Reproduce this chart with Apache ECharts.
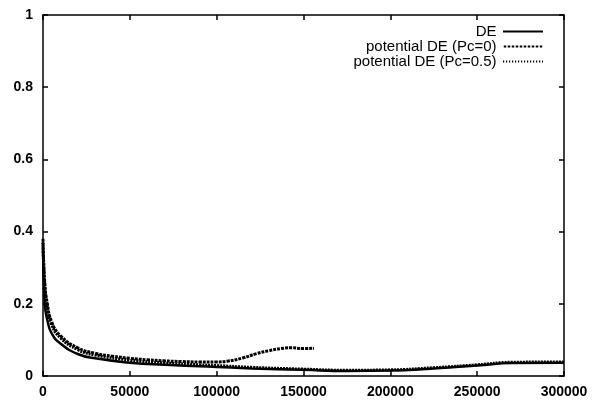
<!DOCTYPE html>
<html>
<head>
<meta charset="utf-8">
<script src="https://cdn.jsdelivr.net/npm/echarts@6/dist/echarts.min.js"></script>
<style>
  html, body { margin: 0; padding: 0; background: #fff; }
  #chart { width: 597px; height: 402px; }
</style>
</head>
<body>
<div id="chart"></div>
<script>
// x ticks and y ticks
const xTicks = [0, 50000, 100000, 150000, 200000, 250000, 300000];
const yTicks = [0, 0.2, 0.4, 0.6, 0.8, 1];

// DE (solid)
const deX = [0, 1000, 2500, 5000, 10000, 20000, 30000, 50000, 70000, 90000, 100000, 120000, 150000, 175000, 200000, 225000, 250000, 270000, 300000];
const deY = [0.35, 0.2, 0.155, 0.118, 0.09, 0.061, 0.049, 0.037, 0.031, 0.027, 0.025, 0.021, 0.017, 0.014, 0.015, 0.021, 0.029, 0.036, 0.037];

// potential DE (Pc=0)
const pc0X = [0, 1000, 2500, 5000, 10000, 20000, 30000, 40000, 50000, 60000, 70000, 80000, 90000, 100000, 106000, 115000, 123000, 130000, 137000, 143000, 150000, 156000];
const pc0Y = [0.38, 0.26, 0.2, 0.15, 0.112, 0.078, 0.063, 0.055, 0.049, 0.045, 0.042, 0.04, 0.039, 0.039, 0.041, 0.05, 0.062, 0.07, 0.076, 0.078, 0.076, 0.077];

// potential DE (Pc=0.5)
const pc5X = [0, 1000, 2500, 5000, 10000, 20000, 30000, 50000, 70000, 90000, 100000, 120000, 150000, 175000, 200000, 225000, 250000, 270000, 300000];
const pc5Y = [0.37, 0.25, 0.19, 0.142, 0.106, 0.073, 0.058, 0.044, 0.036, 0.031, 0.029, 0.024, 0.019, 0.016, 0.017, 0.023, 0.031, 0.038, 0.039];

function pairs(xs, ys) {
  return xs.map((x, i) => [x, ys[i]]);
}

// legend samples drawn as short paths (solid, dashed, dotted)
function dashPath(seg, gap) {
  let d = '';
  for (let x = 0; x < 40; x += seg + gap) {
    const e = Math.min(x + seg, 40);
    d += 'M' + x + ',0H' + e + 'V2H' + x + 'Z';
  }
  return 'path://' + d;
}

const font = 'Liberation Sans, Arial, sans-serif';

const chart = echarts.init(document.getElementById('chart'));

const xBase = {
  type: 'value',
  min: xTicks[0],
  max: xTicks[xTicks.length - 1],
  interval: 50000,
  splitLine: { show: false },
  axisLine: { onZero: false, lineStyle: { color: '#000', width: 1.5 } },
  axisTick: { inside: true, length: 5, lineStyle: { color: '#000', width: 1.5 } }
};
const yBase = {
  type: 'value',
  min: yTicks[0],
  max: yTicks[yTicks.length - 1],
  interval: 0.2,
  splitLine: { show: false },
  axisLine: { onZero: false, lineStyle: { color: '#000', width: 1.5 } },
  axisTick: { inside: true, length: 5, lineStyle: { color: '#000', width: 1.5 } }
};

chart.setOption({
  backgroundColor: '#fff',
  animation: false,
  grid: { left: 43, right: 33, top: 15, bottom: 26 },
  legend: {
    orient: 'vertical',
    right: 49,
    top: 19,
    align: 'right',
    itemWidth: 43,
    itemHeight: 2,
    itemGap: 0,
    textStyle: { fontFamily: font, fontSize: 15, lineHeight: 14, color: '#000' },
    data: [
      { name: 'DE', icon: dashPath(40, 0) },
      { name: 'potential DE (Pc=0)', icon: dashPath(2.5, 1.5) },
      { name: 'potential DE (Pc=0.5)', icon: dashPath(1.2, 1.8) }
    ]
  },
  xAxis: [
    Object.assign({}, xBase, {
      position: 'bottom',
      axisLabel: { color: '#000', fontFamily: font, fontWeight: 'bold', fontSize: 14, margin: 9,
        formatter: v => String(v) }
    }),
    Object.assign({}, xBase, { position: 'top', axisLabel: { show: false } })
  ],
  yAxis: [
    Object.assign({}, yBase, {
      position: 'left',
      axisLabel: { color: '#000', fontFamily: font, fontWeight: 'bold', fontSize: 14, margin: 10,
        formatter: v => String(v) }
    }),
    Object.assign({}, yBase, { position: 'right', axisLabel: { show: false } })
  ],
  series: [
    {
      name: 'DE', type: 'line', smooth: true, symbol: 'none',
      lineStyle: { color: '#000', width: 2.5 },
      itemStyle: { color: '#000' },
      data: pairs(deX, deY)
    },
    {
      name: 'potential DE (Pc=0)', type: 'line', smooth: true, symbol: 'none',
      lineStyle: { color: '#000', width: 3, type: [3, 1] },
      itemStyle: { color: '#000' },
      data: pairs(pc0X, pc0Y)
    },
    {
      name: 'potential DE (Pc=0.5)', type: 'line', smooth: true, symbol: 'none',
      lineStyle: { color: '#000', width: 3, type: [2, 1] },
      itemStyle: { color: '#000' },
      data: pairs(pc5X, pc5Y)
    }
  ]
});
</script>
</body>
</html>
